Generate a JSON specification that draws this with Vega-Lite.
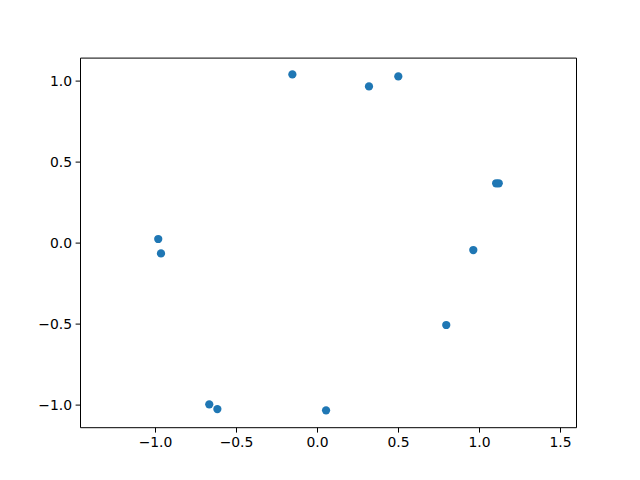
{
  "$schema": "https://vega.github.io/schema/vega-lite/v6.json",
  "width": 496,
  "height": 369.6,
  "autosize": {"type": "none"},
  "padding": {"left": 80, "top": 57.6, "right": 64, "bottom": 52.8},
  "background": "white",
  "config": {
    "view": {"stroke": "black", "strokeWidth": 1},
    "axis": {
      "grid": false,
      "domain": false,
      "tickColor": "black",
      "tickSize": 4.9,
      "tickWidth": 1,
      "labelFont": "DejaVu Sans",
      "labelFontSize": 13.9,
      "labelColor": "black",
      "labelPadding": 3.5,
      "titleFontSize": 0
    }
  },
  "data": {
    "values": [
      {"x": -0.152, "y": 1.041},
      {"x": 0.321, "y": 0.967},
      {"x": 0.502, "y": 1.029},
      {"x": 1.106, "y": 0.369},
      {"x": 1.122, "y": 0.369},
      {"x": 0.965, "y": -0.043},
      {"x": 0.798, "y": -0.506},
      {"x": 0.056, "y": -1.033},
      {"x": -0.615, "y": -1.025},
      {"x": -0.665, "y": -0.996},
      {"x": -0.963, "y": -0.064},
      {"x": -0.980, "y": 0.025}
    ]
  },
  "mark": {"type": "circle", "size": 68, "color": "#1f77b4", "opacity": 1},
  "encoding": {
    "x": {
      "field": "x",
      "type": "quantitative",
      "title": null,
      "scale": {"domain": [-1.463, 1.599], "nice": false, "zero": false},
      "axis": {"values": [-1, -0.5, 0, 0.5, 1, 1.5], "format": ".1f"}
    },
    "y": {
      "field": "y",
      "type": "quantitative",
      "title": null,
      "scale": {"domain": [-1.137, 1.145], "nice": false, "zero": false},
      "axis": {"values": [-1, -0.5, 0, 0.5, 1], "format": ".1f"}
    }
  }
}
